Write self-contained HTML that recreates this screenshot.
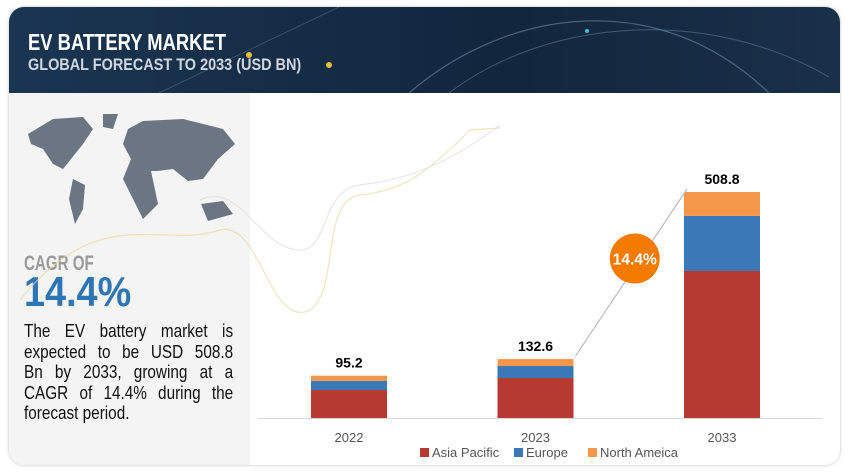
<!DOCTYPE html>
<html><head><meta charset="utf-8"><style>
body{margin:0;width:849px;height:473px;background:#fff;position:relative;overflow:hidden;font-family:"Liberation Sans",sans-serif}
.card{position:absolute;left:9px;top:7px;width:831px;height:458px;border-radius:15px;background:#fff;box-shadow:0 0 3px rgba(0,0,0,.25);overflow:hidden}
.hdr{position:absolute;left:0;top:0;width:831px;height:86px;background:linear-gradient(90deg,#1a3552,#12263d 60%,#1a3048)}
.left{position:absolute;left:0;top:86px;width:241px;height:372px;background:#f4f4f4}
.sq{transform-origin:0 0;white-space:nowrap}
.pl{text-align:justify;text-align-last:justify;white-space:nowrap}
</style></head><body>
<div class="card">
 <div class="hdr">
  <svg width="831" height="86" style="position:absolute;left:0;top:0">
   <path d="M400 86 C500 0 650 -20 760 86" stroke="#6f8aa5" stroke-width="1.2" fill="none" opacity=".6"/>
   <path d="M440 86 C540 10 700 0 820 70" stroke="#6f8aa5" stroke-width="1" fill="none" opacity=".5"/>
   <path d="M150 86 L330 0" stroke="#5a7590" stroke-width="1" opacity=".5"/>
   <circle cx="240" cy="48" r="3" fill="#e8c030"/><circle cx="320" cy="58" r="3" fill="#e8c030"/><circle cx="578" cy="24" r="2" fill="#3ac0e0"/>
  </svg>
  <div class="sq" style="position:absolute;left:19px;top:22px;color:#fff;font-size:23px;font-weight:bold;transform:scaleX(0.8)">EV BATTERY MARKET</div>
  <div class="sq" style="position:absolute;left:19px;top:48px;color:#d0d6de;font-size:17px;font-weight:bold;transform:scaleX(0.85)">GLOBAL FORECAST TO 2033 (USD BN)</div>
 </div>
 <div class="left">
  <svg width="220" height="130" style="position:absolute;left:14px;top:16px">
   <path d="M5 25 L30 10 L60 8 L70 20 L60 35 L48 50 L40 60 L30 55 L20 40 L8 35Z M50 70 L62 76 L60 100 L52 115 L46 90Z M105 20 L120 12 L160 10 L200 20 L212 35 L195 50 L180 70 L165 72 L150 60 L135 62 L128 62 L135 95 L120 110 L110 90 L100 70 L108 50 L100 35Z M178 95 L200 92 L210 105 L185 112Z M80 5 L95 5 L90 20 L80 18Z" fill="#6b7583"/>
  </svg>
  <div class="sq" style="position:absolute;left:15px;top:159px;color:#9a9a9a;font-size:21px;font-weight:bold;transform:scaleX(0.72)">CAGR OF</div>
  <div class="sq" style="position:absolute;left:15px;top:175px;color:#2e75b6;font-size:42px;font-weight:bold;transform:scaleX(0.9)">14.4%</div>
  <div style="position:absolute;left:15px;top:228px;width:246px;color:#111;font-size:18px;line-height:20.5px;transform:scaleX(0.85);transform-origin:0 0">
   <div class="pl">The EV battery market is</div>
   <div class="pl">expected to be USD 508.8</div>
   <div class="pl">Bn by 2033, growing at a</div>
   <div class="pl">CAGR of 14.4% during the</div>
   <div>forecast period.</div>
  </div>
 </div>
</div>
<svg id="chart" width="849" height="473" style="position:absolute;left:0;top:0">
 <path d="M20 300 C100 200 160 250 220 230 C260 220 270 330 310 310 C340 290 320 200 360 195 C400 190 420 180 470 130 L500 128" stroke="#e8d9a0" stroke-width="1.2" fill="none" opacity=".7"/>
 <path d="M200 200 C240 180 260 250 300 250 C330 250 320 190 360 185 C400 180 440 170 500 125" stroke="#ddd" stroke-width="1.2" fill="none" opacity=".7"/>
</svg>
<script>
const categories=["2022","2023","2033"];
const asiaPacific=[63,90,331];
const europe=[20.5,27,124];
const northAmerica=[11.7,15.6,53.8];
const totals=["95.2","132.6","508.8"];
const seriesNames=["Asia Pacific","Europe","North Ameica"];
const colors=["#b63a32","#3a78b8","#f5974a"];
const NS="http://www.w3.org/2000/svg";
const svg=document.getElementById('chart');
const baseY=418,plotH=226,maxV=508.8;
const y=v=>baseY-v/maxV*plotH;
const xc=i=>349+i*186.5;
const bw=76;
function mk(t,a){const e=document.createElementNS(NS,t);for(const k in a)e.setAttribute(k,a[k]);svg.appendChild(e);return e;}
const ax=mk('line',{x1:258,x2:822,y1:baseY+0.5,y2:baseY+0.5,stroke:'#d9d9d9','stroke-width':1});


const series=[asiaPacific,europe,northAmerica];
categories.forEach((c,i)=>{
 let cum=0;
 series.forEach((s,j)=>{
  const r=mk('rect',{x:xc(i)-bw/2,y:y(cum+s[i]),width:bw,height:y(cum)-y(cum+s[i]),fill:colors[j]});
  
  
  cum+=s[i];
 });
 const t=mk('text',{x:xc(i),y:y(cum)-8,'text-anchor':'middle','font-size':14,'font-weight':'bold',fill:'#000','font-family':'Liberation Sans,sans-serif'});
 t.textContent=totals[i];
 
 
 const l=mk('text',{x:xc(i),y:442,'text-anchor':'middle','font-size':13,fill:'#555','font-family':'Liberation Sans,sans-serif'});
 l.textContent=c;
 
 
});
const t1=asiaPacific[1]+europe[1]+northAmerica[1],t2=asiaPacific[2]+europe[2]+northAmerica[2];
const ln=mk('line',{x1:xc(1)+40,y1:y(t1)-3,x2:xc(2)-35,y2:y(t2)-3,stroke:'#bbb','stroke-width':1.2});


const cx=(xc(1)+xc(2))/2+6,cy=(y(t1)+y(t2))/2-17;
const bub=mk('circle',{cx:cx,cy:cy,r:25,fill:'#f47b00'});


const bt=mk('text',{x:cx,y:cy+6,'text-anchor':'middle','font-size':16,'font-weight':'bold',fill:'#fff','font-family':'Liberation Sans,sans-serif',textLength:44,lengthAdjust:'spacingAndGlyphs'});
bt.textContent='14.4%';


let lx=420;
seriesNames.forEach((n,j)=>{
 const r=mk('rect',{x:lx,y:448,width:9,height:9,fill:colors[j]});
 
 
 const t=mk('text',{x:lx+12,y:457,'font-size':13,fill:'#555','font-family':'Liberation Sans,sans-serif'});
 t.textContent=n;
 
 
 lx+=[94,74,0][j];
});
</script>
</body></html>
